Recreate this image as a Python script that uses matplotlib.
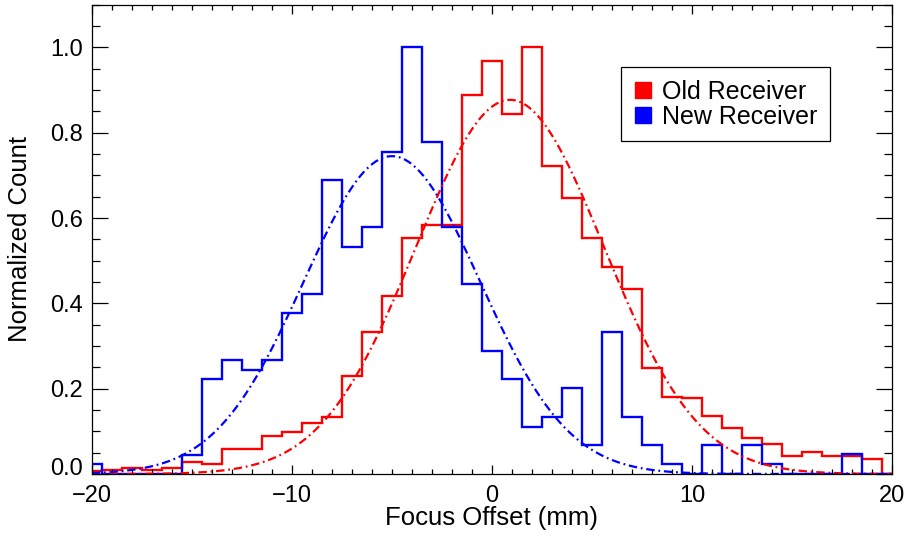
import numpy as np
import matplotlib
matplotlib.use("Agg")
import matplotlib.pyplot as plt
from matplotlib.lines import Line2D
from matplotlib.ticker import MultipleLocator
from matplotlib.transforms import ScaledTranslation

plt.rcParams['font.family'] = ['Liberation Sans', 'DejaVu Sans']

# bin centres (mm), 1 mm bins
bin_centers = list(range(-20, 21))

old_receiver = [0.008, 0.009, 0.013, 0.009, 0.013, 0.027, 0.023, 0.058, 0.058, 0.089,
                0.098, 0.119, 0.134, 0.230, 0.332, 0.417, 0.552, 0.584, 0.584, 0.888,
                0.969, 0.844, 1.000, 0.723, 0.646, 0.552, 0.486, 0.434, 0.248, 0.181,
                0.177, 0.137, 0.107, 0.084, 0.070, 0.041, 0.052, 0.041, 0.041, 0.034,
                0.000]

new_receiver = [0.023, 0.000, 0.000, 0.000, 0.000, 0.045, 0.223, 0.267, 0.244, 0.267,
                0.378, 0.422, 0.689, 0.533, 0.578, 0.755, 1.000, 0.779, 0.578, 0.445,
                0.288, 0.223, 0.111, 0.134, 0.201, 0.068, 0.332, 0.134, 0.068, 0.023,
                0.000, 0.068, 0.000, 0.068, 0.023, 0.000, 0.000, 0.000, 0.046, 0.000,
                0.000]

# Gaussian fit parameters: amplitude, centre, sigma
old_fit = [0.877, 0.9, 4.7]
new_fit = [0.745, -5.0, 4.4]

series_labels = ["Old Receiver", "New Receiver"]
series_colors = ["#ff0000", "#0000ff"]

x_ticks = [-20, -10, 0, 10, 20]
y_ticks = [0.0, 0.2, 0.4, 0.6, 0.8, 1.0]

fig = plt.figure(figsize=(9.09, 5.42), dpi=100)
ax = fig.add_axes([0.1009, 0.1255, 0.8807, 0.8658])

centers = np.array(bin_centers, dtype=float)
edges = np.concatenate([centers - 0.5, [centers[-1] + 0.5]])

ax.stairs(old_receiver, edges, baseline=None, color=series_colors[0], lw=1.7)
ax.stairs(new_receiver, edges, baseline=None, color=series_colors[1], lw=1.7)

xs = np.linspace(-20, 20, 801)
for fit, col in zip([old_fit, new_fit], series_colors):
    a, mu, s = fit
    ax.plot(xs, a * np.exp(-(xs - mu) ** 2 / (2 * s ** 2)), color=col, lw=1.6,
            linestyle=(0, (3.8, 1.7, 0.8, 1.7)))

ax.set_xlim(-20, 20)
ax.set_ylim(0, 1.1)
ax.set_xticks(x_ticks)
ax.set_xticklabels([f"{t:d}".replace('-', '\u2212') for t in x_ticks])
ax.set_yticks(y_ticks)
ax.set_yticklabels([f"{t:.1f}" for t in y_ticks])
ax.xaxis.set_minor_locator(MultipleLocator(1))
ax.yaxis.set_minor_locator(MultipleLocator(0.05))

ax.tick_params(axis='x', which='major', direction='in', length=6.8, width=0.9,
               top=True, labelsize=17, pad=8)
ax.tick_params(axis='x', which='minor', direction='in', length=3.4, width=0.9, top=True)
ax.tick_params(axis='y', which='major', direction='in', length=11.5, width=0.9,
               right=True, labelsize=17, pad=6.5)
ax.tick_params(axis='y', which='minor', direction='in', length=5.8, width=0.9, right=True)
for sp in ax.spines.values():
    sp.set_linewidth(0.9)

# lift the "0.0" label slightly, as in the original
zero_lab = ax.yaxis.get_major_ticks()[0].label1
zero_lab.set_transform(zero_lab.get_transform() +
                       ScaledTranslation(0, 7 / 100, fig.dpi_scale_trans))

ax.set_xlabel("Focus Offset (mm)", fontsize=18.5)
ax.set_ylabel("Normalized Count", fontsize=18.5)
ax.xaxis.set_label_coords(0.5, -0.068)
ax.yaxis.set_label_coords(-0.075, 0.5)

handles = [Line2D([], [], linestyle='none', marker='s', markersize=11.5,
                  markerfacecolor=c, markeredgecolor=c) for c in series_colors]
leg = ax.legend(handles, series_labels, loc='upper left', bbox_to_anchor=(0.661, 0.867),
                fontsize=18, frameon=True, fancybox=False, framealpha=1,
                edgecolor='black', handlelength=0.8, handletextpad=0.35,
                borderpad=0.5, labelspacing=0.05, borderaxespad=0)
leg.get_frame().set_linewidth(0.9)

fig.savefig("out.png", dpi=100)
